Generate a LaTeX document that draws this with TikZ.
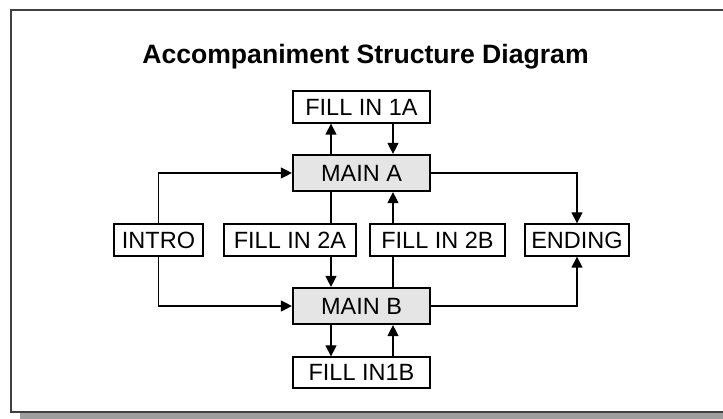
\documentclass[tikz,border=0pt]{standalone}
\usepackage{fontspec}
\setmainfont{Liberation Sans}
\usetikzlibrary{arrows.meta}
\definecolor{mainfill}{gray}{0.9}
\definecolor{framegray}{gray}{0.25}
\definecolor{shadowgray}{gray}{0.62}
\begin{document}
\begin{tikzpicture}[x=1pt,y=-1pt,
part/.style={draw=black,line width=1.3pt,fill=white,inner sep=0pt,minimum height=32pt,font=\fontsize{23.5}{26}\selectfont,text=black},
mainpart/.style={part,fill=mainfill,line width=2.2pt,minimum height=36pt,minimum width=137pt},
arr/.style={line width=1.3pt,-{Triangle[length=11pt,width=11pt]}},
link/.style={line width=1.3pt}
]
\useasboundingbox (0,0) rectangle (723,419);
\fill[shadowgray] (20,412.5) rectangle (740,425);
\draw[framegray,line width=2pt,fill=white] (11,10) rectangle (730,412.5);
\node[font=\bfseries\fontsize{26.6}{30}\selectfont,anchor=base] (title) at (365.5,64) {Accompaniment Structure Diagram};
\coordinate (lx) at (331,0);
\coordinate (rx) at (393,0);
\node[part,minimum width=137pt] (fill1a) at (361.5,107) {FILL IN 1A};
\node[mainpart] (mainA) at (361.5,173) {MAIN A};
\node[part,minimum width=89pt] (intro) at (158.5,240) {INTRO};
\node[part,minimum width=132pt] (fill2a) at (290,240) {FILL IN 2A};
\node[part,minimum width=135pt] (fill2b) at (437.5,240) {FILL IN 2B};
\node[part,minimum width=104pt] (ending) at (577,240) {ENDING};
\node[mainpart] (mainB) at (361.5,306) {MAIN B};
\node[part,minimum width=137pt,minimum height=31pt] (fill1b) at (361.5,372.5) {FILL IN1B};
% fill-ins round MAIN A
\draw[arr] (mainA.north -| lx) -- (fill1a.south -| lx);
\draw[arr] (fill1a.south -| rx) -- (mainA.north -| rx);
% intro and ending
\draw[arr] (intro.north) |- (mainA.west);
\draw[arr] (intro.south) |- (mainB.west);
\draw[arr] (mainA.east) -| (ending.north);
\draw[arr] (mainB.east) -| (ending.south);
% between the two mains
\draw[link] (mainA.south -| lx) -- (fill2a.north -| lx);
\draw[arr] (fill2a.south -| lx) -- (mainB.north -| lx);
\draw[link] (mainB.north -| rx) -- (fill2b.south -| rx);
\draw[arr] (fill2b.north -| rx) -- (mainA.south -| rx);
% fill-ins round MAIN B
\draw[arr] (mainB.south -| lx) -- (fill1b.north -| lx);
\draw[arr] (fill1b.north -| rx) -- (mainB.south -| rx);
\end{tikzpicture}
\end{document}
